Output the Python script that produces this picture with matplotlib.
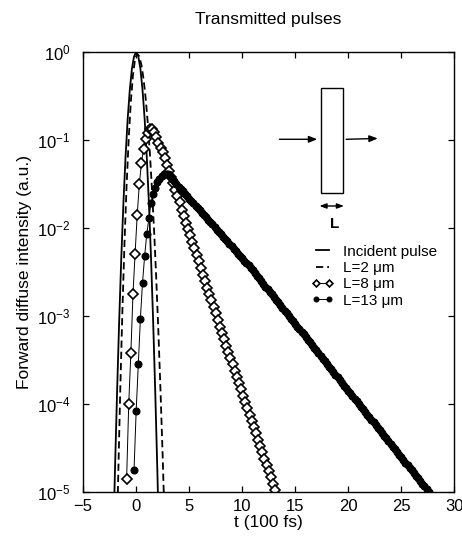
"""Transmitted pulses: forward diffuse intensity vs time for several slab thicknesses."""

import matplotlib

matplotlib.use("Agg")
import matplotlib.pyplot as plt
import numpy as np
from matplotlib.patches import Rectangle
from matplotlib.ticker import NullLocator

plt.rcParams["font.family"] = ["Liberation Sans", "DejaVu Sans"]
plt.rcParams["mathtext.fontset"] = "custom"
plt.rcParams["mathtext.rm"] = "Liberation Sans"
plt.rcParams["mathtext.it"] = "Liberation Sans:italic"

# time in units of 100 fs, intensity stored as log10 values
incident_t = [-2.2, -2.0, -1.8, -1.6, -1.4, -1.2, -1.0, -0.8, -0.6, -0.4, -0.2, 0.0,
              0.2, 0.4, 0.6, 0.8, 1.0, 1.2, 1.4, 1.6, 1.8, 2.0, 2.2]
incident_log = [-5.76, -4.76, -3.86, -3.05, -2.33, -1.71, -1.19, -0.76, -0.43, -0.19, -0.05, 0.0,
                -0.05, -0.19, -0.43, -0.76, -1.19, -1.71, -2.33, -3.05, -3.86, -4.76, -5.76]

l2_t = [-1.9, -1.7, -1.5, -1.3, -1.1, -0.9, -0.7, -0.5, -0.3, -0.1,
        0.1, 0.3, 0.5, 0.7, 0.9, 1.1, 1.3, 1.5, 1.7, 1.9,
        2.1, 2.3, 2.5, 2.7]
l2_log = [-5.99, -4.86, -3.84, -2.95, -2.17, -1.51, -0.98, -0.56, -0.26, -0.08,
          -0.02, -0.05, -0.15, -0.31, -0.53, -0.81, -1.16, -1.58, -2.05, -2.59,
          -3.19, -3.86, -4.59, -5.39]

l8_t = [-0.9, -0.7, -0.5, -0.3, -0.1, 0.1, 0.3, 0.5, 0.7, 0.9,
        1.1, 1.3, 1.5, 1.7, 1.9, 2.1, 2.3, 2.5, 2.7, 2.9,
        3.1, 3.3, 3.5, 3.7, 3.9, 4.1, 4.3, 4.5, 4.7, 4.9,
        5.1, 5.3, 5.5, 5.7, 5.9, 6.1, 6.3, 6.5, 6.7, 6.9,
        7.1, 7.3, 7.5, 7.7, 7.9, 8.1, 8.3, 8.5, 8.7, 8.9,
        9.1, 9.3, 9.5, 9.7, 9.9, 10.1, 10.3, 10.5, 10.7, 10.9,
        11.1, 11.3, 11.5, 11.7, 11.9, 12.1, 12.3, 12.5, 12.7, 12.9,
        13.1]
l8_log = [-4.85, -4.00, -3.42, -2.75, -2.29, -1.85, -1.50, -1.26, -1.10, -0.99,
          -0.92, -0.88, -0.88, -0.91, -0.97, -1.03, -1.09, -1.14, -1.20, -1.28,
          -1.35, -1.42, -1.49, -1.57, -1.64, -1.71, -1.79, -1.86, -1.94, -2.01,
          -2.08, -2.16, -2.23, -2.31, -2.38, -2.45, -2.53, -2.60, -2.68, -2.75,
          -2.82, -2.90, -2.97, -3.05, -3.12, -3.19, -3.26, -3.34, -3.41, -3.48,
          -3.55, -3.62, -3.69, -3.76, -3.83, -3.91, -3.98, -4.05, -4.12, -4.19,
          -4.26, -4.33, -4.41, -4.48, -4.55, -4.62, -4.69, -4.76, -4.83, -4.91,
          -4.98]

l13_t = [-0.2, 0.0, 0.2, 0.4, 0.6, 0.8, 1.0, 1.2, 1.4, 1.6,
         1.8, 2.0, 2.2, 2.4, 2.6, 2.8, 3.0, 3.2, 3.4, 3.6,
         3.8, 4.0, 4.2, 4.4, 4.6, 4.8, 5.0, 5.2, 5.4, 5.6,
         5.8, 6.0, 6.2, 6.4, 6.6, 6.8, 7.0, 7.2, 7.4, 7.6,
         7.8, 8.0, 8.2, 8.4, 8.6, 8.8, 9.0, 9.2, 9.4, 9.6,
         9.8, 10.0, 10.2, 10.4, 10.6, 10.8, 11.0, 11.2, 11.4, 11.6,
         11.8, 12.0, 12.2, 12.4, 12.6, 12.8, 13.0, 13.2, 13.4, 13.6,
         13.8, 14.0, 14.2, 14.4, 14.6, 14.8, 15.0, 15.2, 15.4, 15.6,
         15.8, 16.0, 16.2, 16.4, 16.6, 16.8, 17.0, 17.2, 17.4, 17.6,
         17.8, 18.0, 18.2, 18.4, 18.6, 18.8, 19.0, 19.2, 19.4, 19.6,
         19.8, 20.0, 20.2, 20.4, 20.6, 20.8, 21.0, 21.2, 21.4, 21.6,
         21.8, 22.0, 22.2, 22.4, 22.6, 22.8, 23.0, 23.2, 23.4, 23.6,
         23.8, 24.0, 24.2, 24.4, 24.6, 24.8, 25.0, 25.2, 25.4, 25.6,
         25.8, 26.0, 26.2, 26.4, 26.6, 26.8, 27.0, 27.2, 27.4, 27.6]
l13_log = [-4.75, -4.08, -3.55, -3.03, -2.62, -2.32, -2.07, -1.89, -1.72, -1.61,
           -1.54, -1.48, -1.44, -1.41, -1.39, -1.385, -1.39, -1.41, -1.44, -1.47,
           -1.50, -1.53, -1.555, -1.58, -1.61, -1.64, -1.665, -1.69, -1.72, -1.745,
           -1.77, -1.80, -1.83, -1.855, -1.88, -1.91, -1.935, -1.96, -1.99, -2.02,
           -2.045, -2.07, -2.10, -2.125, -2.15, -2.18, -2.21, -2.235, -2.26, -2.29,
           -2.315, -2.34, -2.37, -2.395, -2.42, -2.45, -2.48, -2.51, -2.54, -2.57,
           -2.60, -2.635, -2.665, -2.695, -2.725, -2.755, -2.785, -2.815, -2.845, -2.875,
           -2.905, -2.94, -2.97, -3.00, -3.03, -3.06, -3.09, -3.12, -3.15, -3.18,
           -3.21, -3.24, -3.27, -3.30, -3.33, -3.36, -3.39, -3.42, -3.455, -3.485,
           -3.515, -3.545, -3.575, -3.605, -3.635, -3.665, -3.695, -3.73, -3.76, -3.79,
           -3.82, -3.85, -3.88, -3.91, -3.94, -3.97, -4.00, -4.03, -4.06, -4.09,
           -4.12, -4.15, -4.18, -4.21, -4.24, -4.27, -4.30, -4.33, -4.36, -4.39,
           -4.42, -4.455, -4.485, -4.515, -4.545, -4.575, -4.605, -4.635, -4.665, -4.695,
           -4.725, -4.755, -4.785, -4.815, -4.845, -4.875, -4.905, -4.935, -4.965, -4.995]

labels = ["Incident pulse", "L=2 \u03bcm", "L=8 \u03bcm", "L=13 \u03bcm"]
x_ticks = [-5, 0, 5, 10, 15, 20, 25, 30]


def intensity(log_values):
    return np.power(10.0, np.asarray(log_values))


fig = plt.figure(figsize=(4.62, 5.37), dpi=100)
ax = fig.add_axes([0.18, 0.0838, 0.803, 0.8194])

ax.plot(incident_t, intensity(incident_log), color="black", lw=1.3, label=labels[0])
ax.plot(l2_t, intensity(l2_log), color="black", lw=1.3, ls=(0, (4, 2.2)), label=labels[1])
ax.plot(l8_t, intensity(l8_log), color="black", lw=0.7, marker="D", ms=5.0,
        mfc="white", mec="black", mew=1.2, label=labels[2])
ax.plot(l13_t, intensity(l13_log), color="black", lw=0.7, marker="o", ms=5.0,
        mfc="black", mec="black", mew=0.8, label=labels[3])

ax.set_yscale("log")
ax.set_xlim(-5, 30)
ax.set_ylim(1e-5, 1)
ax.set_xticks(x_ticks)
ax.yaxis.set_minor_locator(NullLocator())
ax.tick_params(direction="in", top=True, right=True, length=4, width=0.9, labelsize=12)
ax.tick_params(axis="y", pad=9)
ax.tick_params(axis="x", pad=5)
for spine in ax.spines.values():
    spine.set_linewidth(1.0)

ax.set_xlabel("t (100 fs)", fontsize=12.5, labelpad=1)
ax.set_ylabel("Forward diffuse intensity (a.u.)", fontsize=12.5, labelpad=4)
ax.set_title("Transmitted pulses", fontsize=12.5, pad=20)

legend = ax.legend(loc="upper left", bbox_to_anchor=(0.615, 0.562), frameon=False,
                   fontsize=11, numpoints=2, handlelength=1.45, handletextpad=0.6,
                   labelspacing=0.15, borderpad=0, borderaxespad=0, markerscale=0.7)

# slab sketch
ax.add_patch(Rectangle((0.6415, 0.680), 0.0585, 0.2375, transform=ax.transAxes,
                       fill=False, lw=1.0, ec="black"))
arrow = dict(arrowstyle="-|>,head_length=0.5,head_width=0.2", color="black", lw=1.0,
             shrinkA=0, shrinkB=0)
ax.annotate("", xy=(0.631, 0.8016), xytext=(0.529, 0.8016), xycoords="axes fraction",
            arrowprops=arrow)
ax.annotate("", xy=(0.794, 0.8035), xytext=(0.709, 0.8016), xycoords="axes fraction",
            arrowprops=arrow)
ax.annotate("", xy=(0.703, 0.65), xytext=(0.637, 0.65), xycoords="axes fraction",
            arrowprops=dict(arrowstyle="<|-|>,head_length=0.4,head_width=0.15",
                            color="black", lw=1.0, shrinkA=0, shrinkB=0))
ax.text(0.679, 0.609, "L", transform=ax.transAxes, ha="center", va="center",
        fontsize=11, fontweight="bold")

fig.savefig("out.png", dpi=100)
